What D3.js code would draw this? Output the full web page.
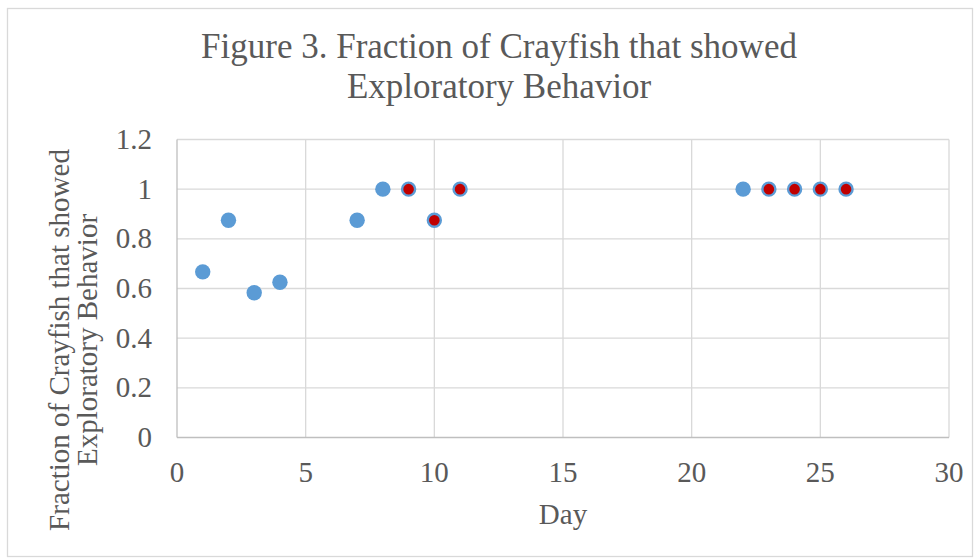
<!DOCTYPE html>
<html>
<head>
<meta charset="utf-8">
<script src="https://cdn.jsdelivr.net/npm/d3@7"></script>
<style>
  body { margin: 0; background: #fff; }
  text { font-family: "Liberation Serif", "Times New Roman", serif; fill: #595959; }
</style>
</head>
<body>
<script>
const width = 980;
const height = 559;

// blue series (plain markers)
const blueDays = [1, 2, 3, 4, 7, 8, 22];
const blueValues = [0.667, 0.875, 0.583, 0.625, 0.875, 1, 1];

// red markers with blue border
const redDays = [9, 10, 11, 23, 24, 25, 26];
const redValues = [1, 0.875, 1, 1, 1, 1, 1];

const xTicks = [0, 5, 10, 15, 20, 25, 30];
const yTicks = [0, 0.2, 0.4, 0.6, 0.8, 1, 1.2];

const titleLines = ["Figure 3. Fraction of Crayfish that showed", "Exploratory Behavior"];
const yTitleLines = ["Fraction of Crayfish that showed", "Exploratory Behavior"];

const plot = { left: 177, right: 949, top: 139.5, bottom: 437.5 };
const labelSize = 29;

const svg = d3.select("body").append("svg")
  .attr("width", width)
  .attr("height", height);

// chart border
svg.append("rect")
  .attr("x", 7.5).attr("y", 8.5)
  .attr("width", 965).attr("height", 548)
  .attr("fill", "#fff")
  .attr("stroke", "#D9D9D9")
  .attr("stroke-width", 1.3);

const x = d3.scaleLinear().domain([0, 30]).range([plot.left, plot.right]);
const y = d3.scaleLinear().domain([0, 1.2]).range([plot.bottom, plot.top]);

// gridlines
svg.append("g").selectAll("line")
  .data(yTicks.slice(1))
  .join("line")
  .attr("x1", plot.left).attr("x2", plot.right)
  .attr("y1", d => y(d)).attr("y2", d => y(d))
  .attr("stroke", "#D9D9D9").attr("stroke-width", 1.3);

svg.append("g").selectAll("line")
  .data(xTicks.slice(1))
  .join("line")
  .attr("x1", d => x(d)).attr("x2", d => x(d))
  .attr("y1", plot.top).attr("y2", plot.bottom)
  .attr("stroke", "#D9D9D9").attr("stroke-width", 1.3);

// axis lines
svg.append("line")
  .attr("x1", plot.left).attr("x2", plot.left)
  .attr("y1", plot.top).attr("y2", plot.bottom)
  .attr("stroke", "#BFBFBF").attr("stroke-width", 1.3);
svg.append("line")
  .attr("x1", plot.left).attr("x2", plot.right)
  .attr("y1", plot.bottom).attr("y2", plot.bottom)
  .attr("stroke", "#BFBFBF").attr("stroke-width", 1.3);

// tick labels
svg.append("g").selectAll("text")
  .data(yTicks)
  .join("text")
  .attr("x", 152)
  .attr("y", d => y(d) + 9.5)
  .attr("text-anchor", "end")
  .attr("font-size", labelSize)
  .text(d => d3.format("~g")(d));

svg.append("g").selectAll("text")
  .data(xTicks)
  .join("text")
  .attr("x", d => x(d))
  .attr("y", 482)
  .attr("text-anchor", "middle")
  .attr("font-size", labelSize)
  .text(d => d);

// title
svg.append("text")
  .attr("x", 499).attr("y", 58)
  .attr("text-anchor", "middle")
  .attr("font-size", 35)
  .selectAll("tspan")
  .data(titleLines)
  .join("tspan")
  .attr("x", 499)
  .attr("dy", (d, i) => i === 0 ? 0 : 40)
  .text(d => d);

// axis titles
svg.append("text")
  .attr("x", 563).attr("y", 524)
  .attr("text-anchor", "middle")
  .attr("font-size", labelSize)
  .text("Day");

svg.append("text")
  .attr("transform", "translate(69,340) rotate(-90)")
  .attr("text-anchor", "middle")
  .attr("font-size", labelSize)
  .selectAll("tspan")
  .data(yTitleLines)
  .join("tspan")
  .attr("x", 0)
  .attr("dy", (d, i) => i === 0 ? 0 : 28)
  .text(d => d);

// points
svg.append("g").selectAll("circle")
  .data(blueDays.map((d, i) => ({ day: d, v: blueValues[i] })))
  .join("circle")
  .attr("cx", d => x(d.day))
  .attr("cy", d => y(d.v))
  .attr("r", 7.7)
  .attr("fill", "#5B9BD5");

svg.append("g").selectAll("circle")
  .data(redDays.map((d, i) => ({ day: d, v: redValues[i] })))
  .join("circle")
  .attr("cx", d => x(d.day))
  .attr("cy", d => y(d.v))
  .attr("r", 6.5)
  .attr("fill", "#C00000")
  .attr("stroke", "#5B9BD5")
  .attr("stroke-width", 2.4);
</script>
</body>
</html>
